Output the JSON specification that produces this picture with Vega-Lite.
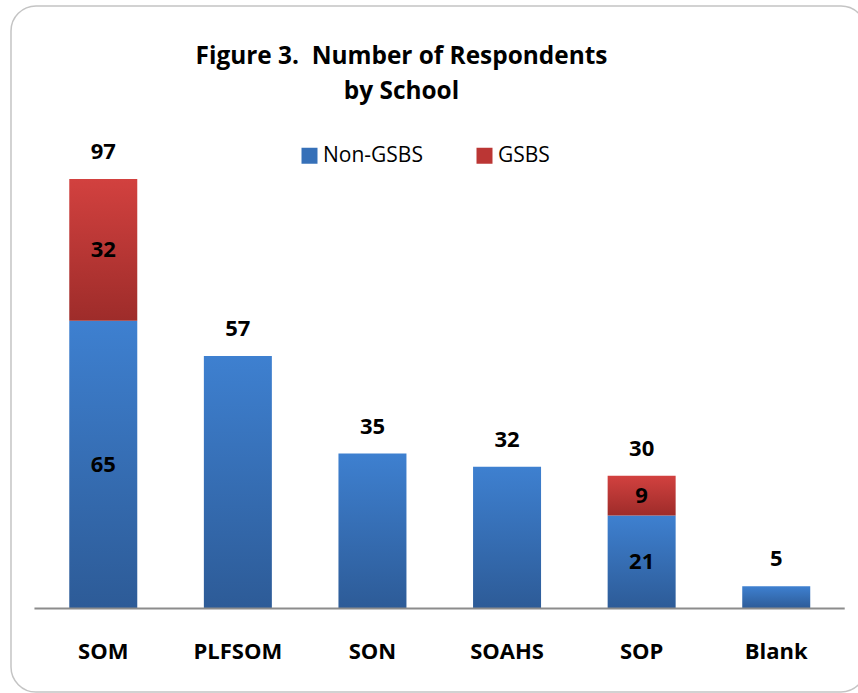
{
  "$schema": "https://vega.github.io/schema/vega-lite/v6.json",
  "width": 855,
  "height": 686,
  "autosize": {"type": "none"},
  "padding": {"left": 11, "top": 6, "right": -8, "bottom": 1},
  "background": "white",
  "title": {
    "text": ["Figure 3.\u00a0 Number of Respondents", "by School"],
    "font": "Open Sans",
    "fontSize": 24.4,
    "fontWeight": "bold",
    "color": "black",
    "anchor": "middle",
    "dx": -37,
    "offset": -98,
    "lineHeight": 35
  },
  "data": {
    "values": [
      {"school": "SOM", "series": "Non-GSBS", "count": 65},
      {"school": "SOM", "series": "GSBS", "count": 32},
      {"school": "PLFSOM", "series": "Non-GSBS", "count": 57},
      {"school": "SON", "series": "Non-GSBS", "count": 35},
      {"school": "SOAHS", "series": "Non-GSBS", "count": 32},
      {"school": "SOP", "series": "Non-GSBS", "count": 21},
      {"school": "SOP", "series": "GSBS", "count": 9},
      {"school": "Blank", "series": "Non-GSBS", "count": 5}
    ]
  },
  "encoding": {
    "x": {
      "field": "school",
      "type": "nominal",
      "sort": null,
      "scale": {"domain": ["SOM", "PLFSOM", "SON", "SOAHS", "SOP", "Blank"], "paddingInner": 0.4948, "paddingOuter": 0.4236, "align": 0.511},
      "axis": {
        "orient": "bottom",
        "offset": -83.5,
        "domain": false,
        "ticks": false,
        "tickSize": 0,
        "labelPadding": 50,
        "labelBaseline": "alphabetic",
        "labelFont": "Open Sans",
        "labelFontSize": 22,
        "labelFontWeight": "bold",
        "labelColor": "black",
        "labelAngle": 0,
        "title": null
      }
    }
  },
  "layer": [
    {
      "mark": {"type": "bar"},
      "encoding": {
        "y": {
          "field": "count",
          "type": "quantitative",
          "stack": "zero",
          "scale": {"domain": [-18.86, 136.07], "nice": false, "zero": false},
          "axis": null
        },
        "order": {"field": "series", "sort": "descending"},
        "color": {
          "field": "series",
          "type": "nominal",
          "sort": ["Non-GSBS", "GSBS"],
          "scale": {"domain": ["Non-GSBS", "GSBS"], "range": ["#3670b8", "#bb3634"]},
          "condition": [
            {"test": "datum.series === 'GSBS'", "value": {"gradient": "linear", "x1": 0, "y1": 0, "x2": 0, "y2": 1, "stops": [{"offset": 0, "color": "#d2413f"}, {"offset": 1, "color": "#9e2c2a"}]}},
            {"test": "datum.series === 'Non-GSBS'", "value": {"gradient": "linear", "x1": 0, "y1": 0, "x2": 0, "y2": 1, "stops": [{"offset": 0, "color": "#3e80d0"}, {"offset": 1, "color": "#2d5b97"}]}}
          ],
          "legend": {
            "orient": "none",
            "legendX": 288,
            "legendY": 139,
            "direction": "horizontal",
            "title": null,
            "symbolType": "square",
            "symbolSize": 256,
            "symbolStrokeWidth": 0,
            "labelFont": "Open Sans",
            "labelFontSize": 21,
            "labelColor": "black",
            "labelOffset": 3,
            "columnPadding": 51,
            "padding": 0,
            "encode": {
              "symbols": {
                "update": {
                  "fill": [
                    {"test": "datum.value === 'GSBS'", "value": {"gradient": "linear", "x1": 0, "y1": 0, "x2": 0, "y2": 1, "stops": [{"offset": 0, "color": "#d2413f"}, {"offset": 1, "color": "#9e2c2a"}]}},
                    {"value": {"gradient": "linear", "x1": 0, "y1": 0, "x2": 0, "y2": 1, "stops": [{"offset": 0, "color": "#3e80d0"}, {"offset": 1, "color": "#2d5b97"}]}}
                  ],
                  "stroke": {"value": "transparent"}
                }
              }
            }
          }
        }
      }
    },
    {
      "transform": [{"filter": "datum.school === 'SOM' || datum.school === 'SOP'"}],
      "mark": {"type": "text", "font": "Open Sans", "fontSize": 22, "fontWeight": "bold", "baseline": "middle", "color": "black"},
      "encoding": {
        "y": {
          "field": "count",
          "type": "quantitative",
          "stack": "zero",
          "bandPosition": 0.5,
          "scale": {"domain": [-18.86, 136.07], "nice": false, "zero": false}
        },
        "order": {"field": "series", "sort": "descending"},
        "detail": {"field": "series"},
        "text": {"field": "count", "type": "quantitative"}
      }
    },
    {
      "transform": [{"aggregate": [{"op": "sum", "field": "count", "as": "total"}], "groupby": ["school"]}],
      "mark": {"type": "text", "font": "Open Sans", "fontSize": 22, "fontWeight": "bold", "baseline": "middle", "color": "black", "dy": -27},
      "encoding": {
        "y": {"field": "total", "type": "quantitative", "scale": {"domain": [-18.86, 136.07], "nice": false, "zero": false}},
        "text": {"field": "total", "type": "quantitative"}
      }
    },
    {
      "data": {"values": [{"lineStart": "SOM", "lineEnd": "Blank"}]},
      "mark": {"type": "rule", "color": "#8c8c8c", "strokeWidth": 2},
      "encoding": {
        "x": {"field": "lineStart", "type": "nominal", "bandPosition": -0.512},
        "x2": {"field": "lineEnd", "bandPosition": 1.507},
        "y": {"datum": 0}
      }
    }
  ],
  "config": {
    "view": {"stroke": "#c4c4c4", "strokeWidth": 1.5, "cornerRadius": 25}
  }
}
